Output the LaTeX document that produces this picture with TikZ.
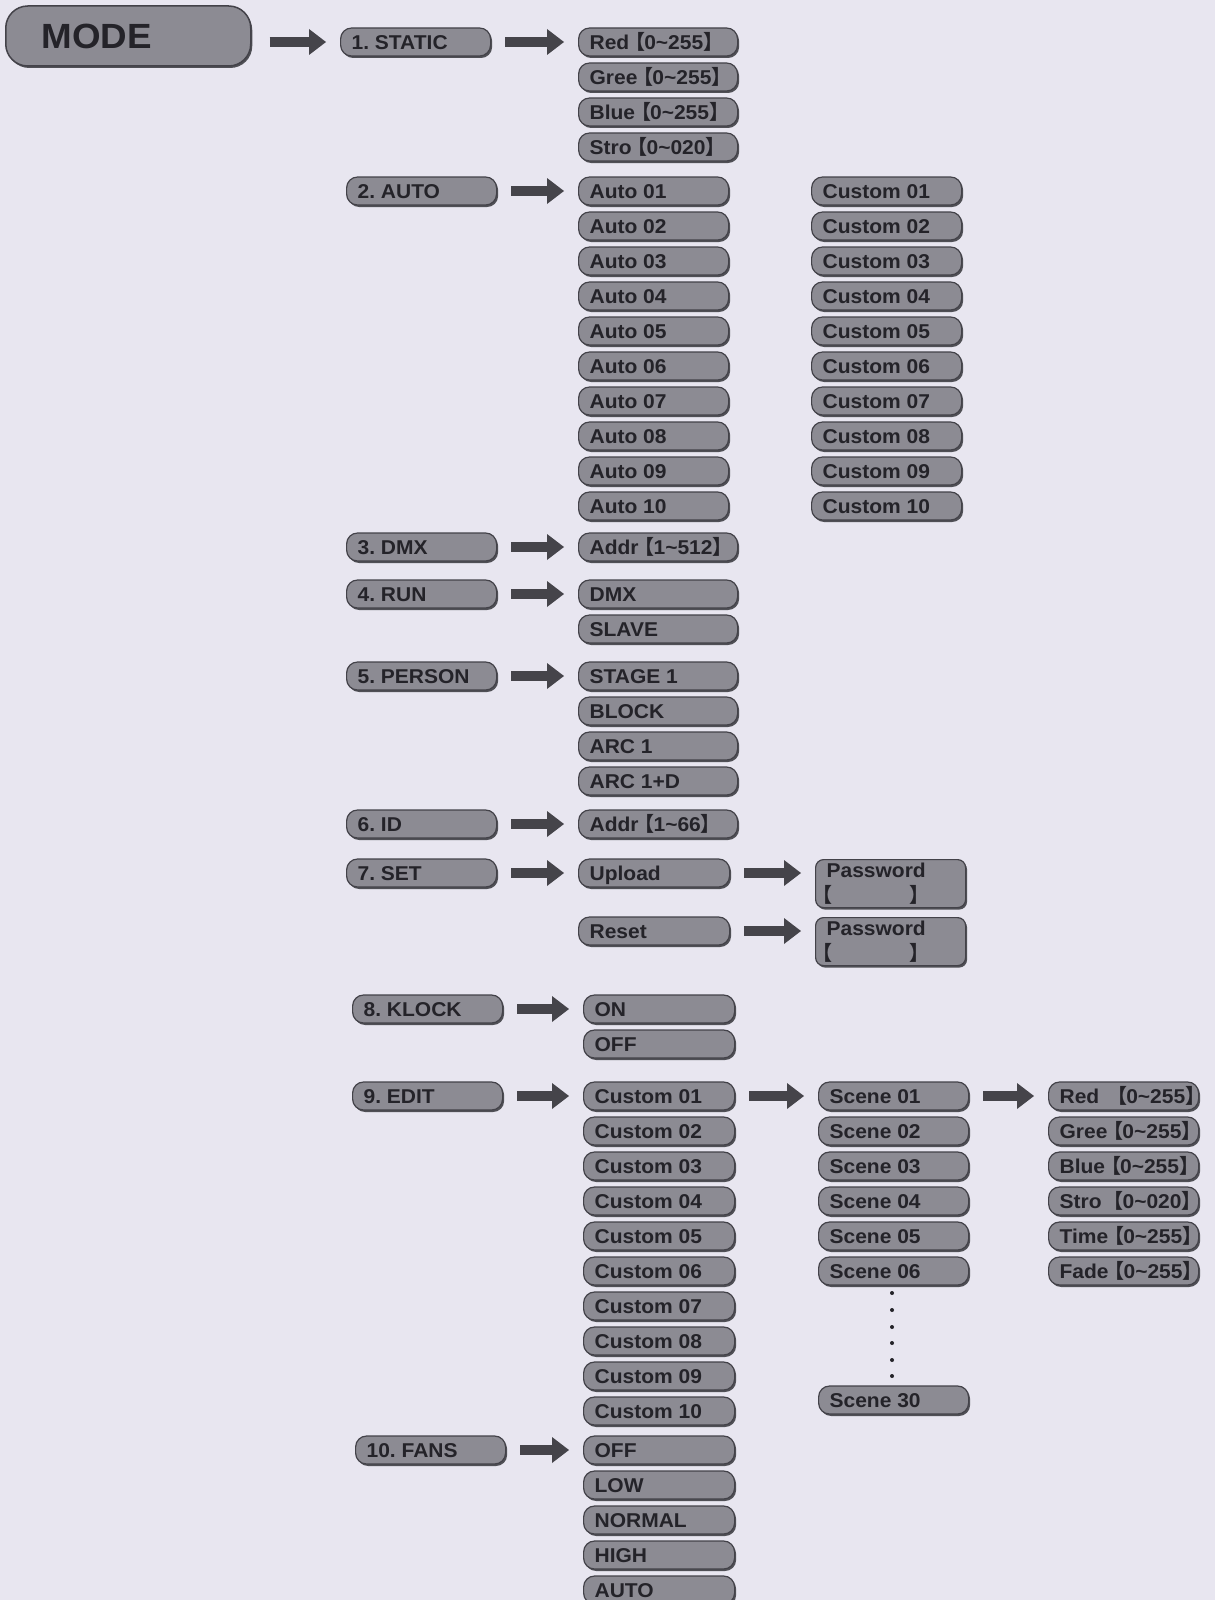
\documentclass[tikz,border=0pt]{standalone}
\usepackage{fontspec}
\setmainfont{Liberation Sans}[FakeStretch=1.05]
\newfontfamily\cjk{Noto Sans CJK SC}
\usetikzlibrary{positioning,shadows,arrows.meta}
\definecolor{paper}{HTML}{E8E6F0}
\definecolor{pill}{HTML}{8C8B93}
\definecolor{rim}{HTML}{434249}
\definecolor{ink}{HTML}{242329}
\definecolor{boxshade}{HTML}{505056}
\definecolor{darrow}{HTML}{45444A}
\frenchspacing
\newcommand\lab{\fontsize{20}{20}\selectfont\bfseries}
\newcommand\rng[2]{\kern-4pt{\cjk 【}\kern-1pt#1\textasciitilde#2{\cjk 】}}

\begin{document}
\begin{tikzpicture}[x=1pt,y=-1pt,node distance=5.8pt]
\tikzset{
  pillbase/.style={draw=rim,line width=1.2pt,fill=pill,rounded corners=11pt,inner xsep=11pt,
    text=ink,font=\lab,
    drop shadow={shadow xshift=1.5pt,shadow yshift=-2pt,fill=boxshade,opacity=1}},
  pillrow/.style={pillbase,anchor=west,minimum height=28pt,inner ysep=0pt,text height=14.3pt,text depth=0pt,
    execute at begin node={\hbox to #1\bgroup},execute at end node={\hss\egroup}},
  menu/.style={pillrow=128pt},
  opt/.style={pillrow=#1},
  opt/.default=128pt,
  head/.style={pillrow=173pt,rounded corners=22pt,minimum height=60pt,inner xsep=36pt,
    line width=1.5pt,text height=25pt,font=\fontsize{35}{40}\selectfont\bfseries},
  pass/.style={pillbase,anchor=north west,rounded corners=8pt,minimum height=48pt,inner ysep=3pt,
    text width=128pt,align=left},
  blk/.style={draw=darrow,line width=10pt,-{Triangle[length=17pt,width=26pt,line width=0pt]}},
  dot/.style={fill=ink}
}
\path[use as bounding box,fill=paper] (0,0) rectangle (1215,1600);

% main menu
\node[head] (mode) at (5,36) {MODE};
\node[menu] (st) at (340,42) {1. STATIC};
\node[menu] (au) at (346,191) {2. AUTO};
\node[menu] (dm) at (346,547) {3. DMX};
\node[menu] (rn) at (346,594) {4. RUN};
\node[menu] (ps) at (346,676) {5. PERSON};
\node[menu] (id) at (346,824) {6. ID};
\node[menu] (se) at (346,873) {7. SET};
\node[menu] (kl) at (352,1009) {8. KLOCK};
\node[menu] (ed) at (352,1096) {9. EDIT};
\node[menu] (fa) at (355,1450) {10. FANS};

% static
\node[opt=137pt] (red) at (578,42) {Red\rng{0}{255}};
\node[opt=137pt,below=of red] (gre) {Gree\rng{0}{255}};
\node[opt=137pt,below=of gre] (blu) {Blue\rng{0}{255}};
\node[opt=137pt,below=of blu] (str) {Stro\rng{0}{020}};

% auto
\node[opt] (a1) at (578,191) {Auto 01};
\node[opt,below=of a1] (a2) {Auto 02};
\node[opt,below=of a2] (a3) {Auto 03};
\node[opt,below=of a3] (a4) {Auto 04};
\node[opt,below=of a4] (a5) {Auto 05};
\node[opt,below=of a5] (a6) {Auto 06};
\node[opt,below=of a6] (a7) {Auto 07};
\node[opt,below=of a7] (a8) {Auto 08};
\node[opt,below=of a8] (a9) {Auto 09};
\node[opt,below=of a9] (a10) {Auto 10};
\node[opt] (c1) at (811,191) {Custom 01};
\node[opt,below=of c1] (c2) {Custom 02};
\node[opt,below=of c2] (c3) {Custom 03};
\node[opt,below=of c3] (c4) {Custom 04};
\node[opt,below=of c4] (c5) {Custom 05};
\node[opt,below=of c5] (c6) {Custom 06};
\node[opt,below=of c6] (c7) {Custom 07};
\node[opt,below=of c7] (c8) {Custom 08};
\node[opt,below=of c8] (c9) {Custom 09};
\node[opt,below=of c9] (c10) {Custom 10};

% dmx, run, person, id
\node[opt=137pt] (addr) at (578,547) {Addr\rng{1}{512}};
\node[opt=137pt] (rdmx) at (578,594) {DMX};
\node[opt=137pt,below=of rdmx] (slv) {SLAVE};
\node[opt=137pt] (stg) at (578,676) {STAGE 1};
\node[opt=137pt,below=of stg] (blk) {BLOCK};
\node[opt=137pt,below=of blk] (arc) {ARC 1};
\node[opt=137pt,below=of arc] (arcd) {ARC 1+D};
\node[opt=137pt] (addrid) at (578,824) {Addr\rng{1}{66}};

% set
\node[opt=129pt] (up) at (578,873) {Upload};
\node[opt=129pt] (rs) at (578,931) {Reset};
\node[pass] (pw1) at (815,859) {Password\\[5pt]\hspace*{-14pt}{\cjk 【}\hspace{77pt}{\cjk 】}};
\node[pass] (pw2) at (815,917) {Password\\[5pt]\hspace*{-14pt}{\cjk 【}\hspace{77pt}{\cjk 】}};

% klock
\node[opt=129pt] (on) at (583,1009) {ON};
\node[opt=129pt,below=of on] (off) {OFF};

% edit
\node[opt=129pt] (e1) at (583,1096) {Custom 01};
\node[opt=129pt,below=of e1] (e2) {Custom 02};
\node[opt=129pt,below=of e2] (e3) {Custom 03};
\node[opt=129pt,below=of e3] (e4) {Custom 04};
\node[opt=129pt,below=of e4] (e5) {Custom 05};
\node[opt=129pt,below=of e5] (e6) {Custom 06};
\node[opt=129pt,below=of e6] (e7) {Custom 07};
\node[opt=129pt,below=of e7] (e8) {Custom 08};
\node[opt=129pt,below=of e8] (e9) {Custom 09};
\node[opt=129pt,below=of e9] (e10) {Custom 10};
\node[opt] (s1) at (818,1096) {Scene 01};
\node[opt,below=of s1] (s2) {Scene 02};
\node[opt,below=of s2] (s3) {Scene 03};
\node[opt,below=of s3] (s4) {Scene 04};
\node[opt,below=of s4] (s5) {Scene 05};
\node[opt,below=of s5] (s6) {Scene 06};
\node[opt] (s30) at (818,1400) {Scene 30};
\node[opt] (v1) at (1048,1096) {Red\hspace{12pt}\rng{0}{255}};
\node[opt,below=of v1] (v2) {Gree\rng{0}{255}};
\node[opt,below=of v2] (v3) {Blue\rng{0}{255}};
\node[opt,below=of v3] (v4) {Stro\hspace{6pt}\rng{0}{020}};
\node[opt,below=of v4] (v5) {Time\rng{0}{255}};
\node[opt,below=of v5] (v6) {Fade\rng{0}{255}};
\foreach \y in {1293,1310,1327,1343,1360,1376} \fill[dot] (892,\y) circle (2pt);

% fans
\node[opt=129pt] (f1) at (583,1450) {OFF};
\node[opt=129pt,below=of f1] (f2) {LOW};
\node[opt=129pt,below=of f2] (f3) {NORMAL};
\node[opt=129pt,below=of f3] (f4) {HIGH};
\node[opt=129pt,below=of f4] (f5) {AUTO};

% arrows
\draw[blk] ([xshift=18pt]mode.east |- st.west) -- ([xshift=-14pt]st.west);
\draw[blk] ([xshift=14pt]st.east) -- ([xshift=-14pt]red.west);
\draw[blk] ([xshift=14pt]au.east) -- ([xshift=-14pt]a1.west);
\draw[blk] ([xshift=14pt]dm.east) -- ([xshift=-14pt]addr.west);
\draw[blk] ([xshift=14pt]rn.east) -- ([xshift=-14pt]rdmx.west);
\draw[blk] ([xshift=14pt]ps.east) -- ([xshift=-14pt]stg.west);
\draw[blk] ([xshift=14pt]id.east) -- ([xshift=-14pt]addrid.west);
\draw[blk] ([xshift=14pt]se.east) -- ([xshift=-14pt]up.west);
\draw[blk] ([xshift=14pt]up.east) -- ([xshift=-14pt]pw1.west |- up.east);
\draw[blk] ([xshift=14pt]rs.east) -- ([xshift=-14pt]pw2.west |- rs.east);
\draw[blk] ([xshift=14pt]kl.east) -- ([xshift=-14pt]on.west);
\draw[blk] ([xshift=14pt]ed.east) -- ([xshift=-14pt]e1.west);
\draw[blk] ([xshift=14pt]e1.east) -- ([xshift=-14pt]s1.west);
\draw[blk] ([xshift=14pt]s1.east) -- ([xshift=-14pt]v1.west);
\draw[blk] ([xshift=14pt]fa.east) -- ([xshift=-14pt]f1.west);
\end{tikzpicture}
\end{document}
